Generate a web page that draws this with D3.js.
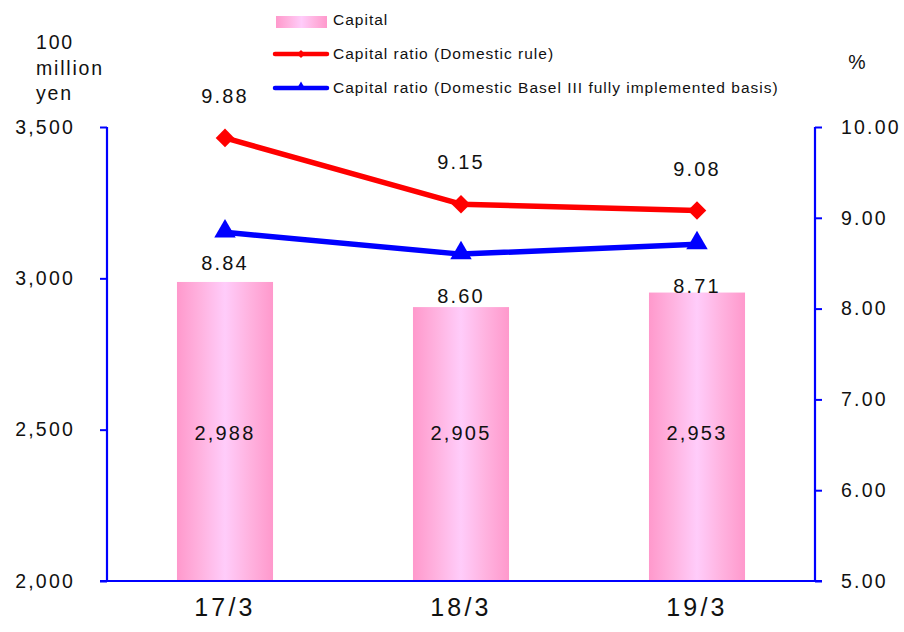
<!DOCTYPE html>
<html>
<head>
<meta charset="utf-8">
<script src="https://cdn.jsdelivr.net/npm/d3@7/dist/d3.min.js"></script>
<style>
  html, body { margin: 0; padding: 0; background: #fff; }
  svg { display: block; font-family: "Liberation Sans", Arial, sans-serif; }
</style>
</head>
<body>
<svg id="chart" width="904" height="632"></svg>
<script>
// Fiscal year-ends
const periods = ["17/3", "18/3", "19/3"];
// Capital, 100 million yen
const capital = [2988, 2905, 2953];
// Capital ratio (Domestic rule), %
const ratioDomestic = [9.88, 9.15, 9.08];
// Capital ratio (Domestic Basel III fully implemented basis), %
const ratioBasel = [8.84, 8.60, 8.71];
// Axis ticks
const leftTicks = [2000, 2500, 3000, 3500];
const rightTicks = [5, 6, 7, 8, 9, 10];

const svg = d3.select("#chart");
const blue = "#0000ff", red = "#ff0000";
const m = { left: 107, right: 815, top: 127, bottom: 581 };

const x = d3.scaleBand().domain(periods).range([m.left, m.right]).paddingInner(0.593).paddingOuter(0.2965);
const yL = d3.scaleLinear().domain([2000, 3500]).range([m.bottom, m.top]);
const yR = d3.scaleLinear().domain([5, 10]).range([m.bottom, m.top]);
const cx = d => x(d) + x.bandwidth() / 2;

// Horizontal pink gradient for the bars
const defs = svg.append("defs");
const grad = defs.append("linearGradient").attr("id", "barGrad").attr("x1", "0").attr("x2", "1").attr("y1", "0").attr("y2", "0");
[[0, "#ff99cc"], [0.25, "#ffb3e0"], [0.5, "#ffccfa"], [0.75, "#ffb3e0"], [1, "#ff99cc"]]
  .forEach(([o, c]) => grad.append("stop").attr("offset", o).attr("stop-color", c));

// Bars
svg.append("g").selectAll("rect").data(periods).join("rect")
  .attr("x", d => x(d))
  .attr("width", x.bandwidth())
  .attr("y", (d, i) => yL(capital[i]))
  .attr("height", (d, i) => m.bottom - yL(capital[i]))
  .attr("fill", "url(#barGrad)");

// Bar value labels
const valueFont = { size: 20, spacing: 2.2 };
svg.append("g").selectAll("text").data(periods).join("text")
  .attr("x", cx)
  .attr("y", 433)
  .attr("dy", "0.35em")
  .attr("text-anchor", "middle")
  .attr("font-size", valueFont.size).attr("letter-spacing", valueFont.spacing)
  .attr("fill", "#111")
  .text((d, i) => d3.format(",")(capital[i]));

// Axes
const axisL = d3.axisLeft(yL).tickValues(leftTicks).tickFormat(d3.format(",")).tickSize(7).tickPadding(25);
const gL = svg.append("g").attr("transform", `translate(${m.left},0)`).call(axisL);
const axisR = d3.axisRight(yR).tickValues(rightTicks).tickFormat(d3.format(".2f")).tickSize(7).tickPadding(19);
const gR = svg.append("g").attr("transform", `translate(${m.right},0)`).call(axisR);
[gL, gR].forEach(g => {
  g.select(".domain").remove();
  g.selectAll(".tick line").attr("stroke", blue).attr("stroke-width", 2);
  g.selectAll(".tick text").attr("font-size", 19.5).attr("letter-spacing", 2.2).attr("fill", "#111")
    .attr("font-family", "Liberation Sans, Arial, sans-serif");
});
svg.append("line").attr("x1", m.left).attr("x2", m.left).attr("y1", m.top).attr("y2", m.bottom)
  .attr("stroke", blue).attr("stroke-width", 2.2);
svg.append("line").attr("x1", m.right).attr("x2", m.right).attr("y1", m.top).attr("y2", m.bottom)
  .attr("stroke", blue).attr("stroke-width", 2.2);
svg.append("line").attr("x1", m.left - 7).attr("x2", m.right + 7).attr("y1", m.bottom).attr("y2", m.bottom)
  .attr("stroke", blue).attr("stroke-width", 2.2);

// Category labels
svg.append("g").selectAll("text").data(periods).join("text")
  .attr("x", cx).attr("y", 607).attr("dy", "0.35em")
  .attr("text-anchor", "middle")
  .attr("font-size", 25).attr("letter-spacing", 3.2).attr("fill", "#111")
  .text(d => d);

// Axis titles
const unit = svg.append("text").attr("font-size", 19.5).attr("letter-spacing", 1.8).attr("fill", "#111");
["100", "million", "yen"].forEach((t, i) =>
  unit.append("tspan").attr("x", 36).attr("y", 49 + i * 25.5).text(t));
svg.append("text").attr("x", 857).attr("y", 69).attr("text-anchor", "middle")
  .attr("font-size", 19.5).attr("fill", "#111").text("%");

// Ratio lines
const line = d3.line().x((d, i) => cx(periods[i])).y(d => yR(d));
svg.append("path").datum(ratioDomestic).attr("d", line)
  .attr("fill", "none").attr("stroke", red).attr("stroke-width", 5.5).attr("stroke-linejoin", "round");
svg.append("path").datum(ratioBasel).attr("d", line)
  .attr("fill", "none").attr("stroke", blue).attr("stroke-width", 5.5).attr("stroke-linejoin", "round");

const diamond = d3.symbol().type(d3.symbolDiamond2).size(220);
const triangle = d3.symbol().type(d3.symbolTriangle).size(200);
svg.append("g").selectAll("path").data(ratioDomestic).join("path")
  .attr("transform", (d, i) => `translate(${cx(periods[i])},${yR(d)})`)
  .attr("d", diamond).attr("fill", red);
svg.append("g").selectAll("path").data(ratioBasel).join("path")
  .attr("transform", (d, i) => `translate(${cx(periods[i])},${yR(d) - 1})`)
  .attr("d", triangle).attr("fill", blue);

// Ratio labels
svg.append("g").selectAll("text").data(ratioDomestic).join("text")
  .attr("x", (d, i) => cx(periods[i])).attr("y", d => yR(d) - 42).attr("dy", "0.35em")
  .attr("text-anchor", "middle").attr("font-size", valueFont.size).attr("letter-spacing", valueFont.spacing).attr("fill", "#111")
  .text(d => d.toFixed(2));
const baselLabelGap = [31, 42, 42];
svg.append("g").selectAll("text").data(ratioBasel).join("text")
  .attr("x", (d, i) => cx(periods[i])).attr("y", (d, i) => yR(d) + baselLabelGap[i]).attr("dy", "0.35em")
  .attr("text-anchor", "middle").attr("font-size", valueFont.size).attr("letter-spacing", valueFont.spacing).attr("fill", "#111")
  .text(d => d.toFixed(2));

// Legend
const lg = svg.append("g").attr("font-size", 15.5).attr("letter-spacing", 1.0).attr("fill", "#111");
lg.append("rect").attr("x", 276).attr("y", 16).attr("width", 51).attr("height", 12).attr("fill", "url(#barGrad)");
lg.append("text").attr("x", 333).attr("y", 20).attr("dy", "0.35em").text("Capital");
lg.append("line").attr("x1", 275).attr("x2", 327).attr("y1", 54).attr("y2", 54).attr("stroke", red).attr("stroke-width", 4.5).attr("stroke-linecap", "round");
lg.append("path").attr("transform", "translate(301,54)").attr("d", d3.symbol().type(d3.symbolDiamond2).size(40)).attr("fill", red);
lg.append("text").attr("x", 333).attr("y", 54).attr("dy", "0.35em").text("Capital ratio (Domestic rule)");
lg.append("line").attr("x1", 275).attr("x2", 327).attr("y1", 88).attr("y2", 88).attr("stroke", blue).attr("stroke-width", 4.5).attr("stroke-linecap", "round");
lg.append("path").attr("transform", "translate(301,87)").attr("d", d3.symbol().type(d3.symbolTriangle).size(40)).attr("fill", blue);
lg.append("text").attr("x", 333).attr("y", 88).attr("dy", "0.35em").text("Capital ratio (Domestic Basel III fully implemented basis)");
</script>
</body>
</html>
